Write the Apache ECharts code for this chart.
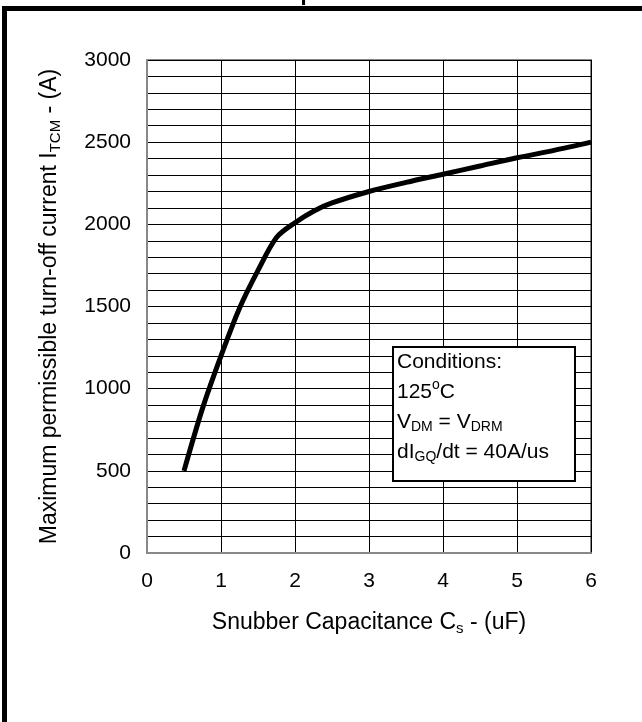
<!DOCTYPE html>
<html>
<head>
<meta charset="utf-8">
<script src="https://cdn.jsdelivr.net/npm/echarts@6/dist/echarts.min.js"></script>
<style>
  html, body { margin: 0; padding: 0; background: #fff; }
  #main { width: 642px; height: 722px; }
</style>
</head>
<body>
<div id="main"></div>
<script>
// snubber capacitance (uF) vs max turn-off current (A)
const capacitance = [0.5, 0.75, 1.0, 1.25, 1.5, 1.75, 2.0, 2.25, 2.5, 3.0, 3.5, 4.0, 4.5, 5.0, 5.5, 6.0];
const turnOffCurrent = [500, 880, 1200, 1490, 1720, 1920, 2010, 2080, 2130, 2200, 2255, 2305, 2355, 2405, 2450, 2500];
const xTicks = [0, 1, 2, 3, 4, 5, 6];
const yTicks = [0, 500, 1000, 1500, 2000, 2500, 3000];

const font = 'Liberation Sans, Arial, sans-serif';

let myChart = echarts.init(document.getElementById('main'));
let option = {
  backgroundColor: '#fff',
  animation: false,
  grid: {
    left: 147, right: 51, top: 60, bottom: 169,
    show: true, borderColor: '#888', borderWidth: 2
  },
  xAxis: {
    type: 'value',
    min: xTicks[0], max: xTicks[xTicks.length - 1], interval: 1,
    name: 'Snubber Capacitance C{sub|s} - (uF)',
    nameLocation: 'middle',
    nameGap: 57,
    nameTextStyle: {
      fontFamily: font, fontSize: 23, color: '#000',
      rich: { sub: { fontFamily: font, fontSize: 15, color: '#000', padding: [11, 0, 0, 0] } }
    },
    axisLine: { show: true, lineStyle: { color: '#888', width: 2 } },
    axisTick: { show: false },
    axisLabel: { fontFamily: font, fontSize: 21, color: '#000', margin: 18 },
    splitLine: { show: true, lineStyle: { color: '#000', width: 1 } }
  },
  yAxis: {
    type: 'value',
    min: yTicks[0], max: yTicks[yTicks.length - 1], interval: 500,
    name: 'Maximum permissible turn-off current I{sub|TCM} - (A)',
    nameLocation: 'middle',
    nameGap: 84,
    nameRotate: 90,
    nameTextStyle: {
      fontFamily: font, fontSize: 23, color: '#000',
      rich: { sub: { fontFamily: font, fontSize: 15, color: '#000', padding: [11, 0, 0, 0] } }
    },
    axisLine: { show: true, lineStyle: { color: '#888', width: 2 } },
    axisTick: { show: false },
    axisLabel: { fontFamily: font, fontSize: 21, color: '#000', margin: 16, formatter: v => String(v) },
    splitLine: { show: true, lineStyle: { color: '#000', width: 1 } },
    minorTick: { show: false, splitNumber: 5 },
    minorSplitLine: { show: true, lineStyle: { color: '#000', width: 1 } }
  },
  graphic: [
    // page frame (left + top edges only are in frame)
    { type: 'rect', left: 2, top: 6, z: 10, shape: { width: 640, height: 5 }, style: { fill: '#000' } },
    { type: 'rect', left: 2, top: 6, z: 10, shape: { width: 5, height: 716 }, style: { fill: '#000' } },
    // cut-off title
    {
      type: 'text', x: 325, y: 5, z: 10,
      style: { text: 'temperature', font: 'bold 22px ' + font, fill: '#000', align: 'center', verticalAlign: 'bottom' }
    },
    // conditions box
    {
      type: 'group', left: 392, top: 346, z: 10,
      children: [
        { type: 'rect', z: 10, shape: { x: 0, y: 0, width: 182, height: 134 }, style: { fill: '#fff', stroke: '#000', lineWidth: 2 } },
        {
          type: 'text', x: 4, y: 0, z: 11,
          style: {
            text: 'Conditions:\n125{sup|o}C\nV{sub|DM} = V{sub|DRM}\ndI{sub|GQ}/dt = 40A/us',
            font: '21px ' + font, fill: '#000', lineHeight: 30,
            rich: {
              sup: { fontFamily: font, fontSize: 14, fill: '#000', padding: [0, 0, 13, 0] },
              sub: { fontFamily: font, fontSize: 14, fill: '#000', padding: [11, 0, 0, 0] }
            }
          }
        }
      ]
    }
  ],
  series: [
    {
      type: 'line',
      data: capacitance.map((c, i) => [c, turnOffCurrent[i]]),
      smooth: 0.3,
      showSymbol: false,
      lineStyle: { color: '#000', width: 5 },
      z: 5
    }
  ]
};
myChart.setOption(option);
</script>
</body>
</html>
